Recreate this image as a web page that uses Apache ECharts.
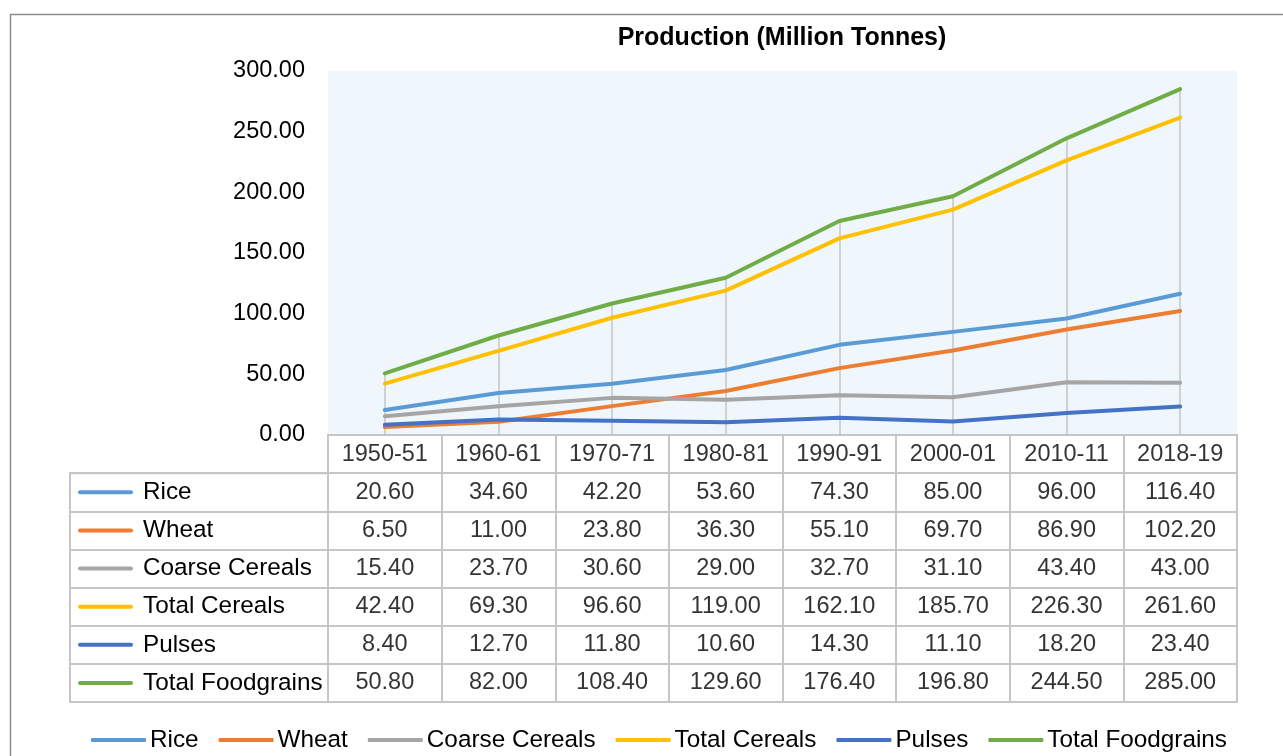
<!DOCTYPE html>
<html>
<head>
<meta charset="utf-8">
<title>Production (Million Tonnes)</title>
<script src="https://cdn.jsdelivr.net/npm/echarts@6/dist/echarts.min.js"></script>
<style>
  html, body { margin: 0; padding: 0; background: #ffffff; }
  #chart { width: 1283px; height: 756px; }
</style>
</head>
<body>
<div id="chart"></div>
<script>
// Foodgrain production by crop, million tonnes
const years = ['1950-51', '1960-61', '1970-71', '1980-81', '1990-91', '2000-01', '2010-11', '2018-19'];
const rice            = [20.6, 34.6, 42.2, 53.6, 74.3, 85.0, 96.0, 116.4];
const wheat           = [6.5, 11.0, 23.8, 36.3, 55.1, 69.7, 86.9, 102.2];
const coarseCereals   = [15.4, 23.7, 30.6, 29.0, 32.7, 31.1, 43.4, 43.0];
const totalCereals    = [42.4, 69.3, 96.6, 119.0, 162.1, 185.7, 226.3, 261.6];
const pulses          = [8.4, 12.7, 11.8, 10.6, 14.3, 11.1, 18.2, 23.4];
const totalFoodgrains = [50.8, 82.0, 108.4, 129.6, 176.4, 196.8, 244.5, 285.0];

const seriesNames = ['Rice', 'Wheat', 'Coarse Cereals', 'Total Cereals', 'Pulses', 'Total Foodgrains'];
const seriesValues = [rice, wheat, coarseCereals, totalCereals, pulses, totalFoodgrains];
const seriesColors = ['#5B9BD5', '#ED7D31', '#A5A5A5', '#FFC000', '#4472C4', '#70AD47'];

const yMin = 0, yMax = 300, yStep = 50;

const FONT = 'Arial, "Liberation Sans", sans-serif';
const FS = 23.5;      // numbers
const FS_NAME = 24.3; // series names
const TEXT = '#000000';
const CELL_LINE = '#C6C6C6';

// Plot area and data table geometry
const plotLeft = 328, plotWidth = 909, plotTop = 71, plotHeight = 364;
const rowH = 38.15;
const tableTop = plotTop + plotHeight;
const headerColLeft = 70;

// Drop lines: from the axis up to the highest value in each column
const dropLines = years.map((_, i) => {
  const top = Math.max(...seriesValues.map(s => s[i]));
  return [{ coord: [i, 0] }, { coord: [i, top] }];
});

// Table cells: header row (years) + one row per series
const cellData = [];
years.forEach((y, i) => cellData.push([i, 0, y]));
seriesValues.forEach((vals, r) => {
  vals.forEach((v, i) => cellData.push([i, r + 1, v.toFixed(2)]));
});

// Row headers with colour keys
const rowRich = { n: { fontFamily: FONT, fontSize: FS_NAME, color: TEXT, padding: [0, 0, 0, 10], verticalAlign: 'middle' } };
seriesColors.forEach((c, i) => {
  rowRich['k' + i] = { backgroundColor: c, width: 55, height: 4, borderRadius: 2, verticalAlign: 'middle' };
});

const lineSeries = seriesNames.map((name, idx) => ({
  name,
  type: 'line',
  xAxisIndex: 0,
  yAxisIndex: 0,
  data: seriesValues[idx],
  symbol: 'none',
  color: seriesColors[idx],
  lineStyle: { width: 4, color: seriesColors[idx], cap: 'round', join: 'round' },
  z: 3,
  markLine: idx === 0 ? {
    silent: true,
    symbol: ['none', 'none'],
    label: { show: false },
    lineStyle: { color: '#C4C4C4', width: 1.5, type: 'solid' },
    emphasis: { disabled: true },
    data: dropLines,
    z: 1
  } : undefined
}));

const option = {
  animation: false,
  backgroundColor: '#ffffff',
  textStyle: { fontFamily: FONT },
  title: {
    text: 'Production (Million Tonnes)',
    left: 777,
    top: 21,
    textAlign: 'center',
    textStyle: { fontFamily: FONT, fontSize: 25, fontWeight: 'bold', color: TEXT }
  },
  legend: {
    data: seriesNames,
    left: 86,
    top: 723,
    itemWidth: 55,
    itemHeight: 4,
    itemGap: 20,
    icon: 'roundRect',
    textStyle: { fontFamily: FONT, fontSize: FS_NAME, color: TEXT, padding: [0, 0, 0, -1] },
    selectedMode: false
  },
  grid: [
    { // plot area
      left: plotLeft, top: plotTop, width: plotWidth, height: plotHeight,
      show: true, backgroundColor: '#EFF7FC', borderWidth: 0, containLabel: false, outerBoundsMode: 'none'
    },
    { // table: year header + value cells
      left: plotLeft, top: tableTop, width: plotWidth, height: rowH * 7,
      show: true, backgroundColor: 'transparent', borderColor: CELL_LINE, borderWidth: 2, containLabel: false, outerBoundsMode: 'none'
    },
    { // table: row headers
      left: headerColLeft, top: tableTop + rowH, width: plotLeft - headerColLeft, height: rowH * 6,
      show: true, backgroundColor: 'transparent', borderColor: CELL_LINE, borderWidth: 2, containLabel: false, outerBoundsMode: 'none'
    }
  ],
  xAxis: [
    {
      gridIndex: 0, type: 'category', data: years, boundaryGap: true,
      axisLine: { show: false }, axisTick: { show: false }, axisLabel: { show: false }, splitLine: { show: false }
    },
    {
      gridIndex: 1, type: 'category', data: years, boundaryGap: true,
      axisLine: { show: false }, axisTick: { show: false }, axisLabel: { show: false },
      splitLine: { show: true, interval: 0, lineStyle: { color: CELL_LINE, width: 2 } }
    },
    {
      gridIndex: 2, type: 'value', min: 0, max: 1, show: false
    }
  ],
  yAxis: [
    {
      gridIndex: 0, type: 'value', min: yMin, max: yMax, interval: yStep,
      axisLine: { show: false }, axisTick: { show: false }, splitLine: { show: false },
      axisLabel: { formatter: v => v.toFixed(2), fontFamily: FONT, fontSize: FS, color: TEXT, margin: 23, lineHeight: 26, padding: [4, 0, 0, 0] }
    },
    {
      gridIndex: 1, type: 'category', inverse: true, data: ['header'].concat(seriesNames),
      axisLine: { show: false }, axisTick: { show: false }, axisLabel: { show: false },
      splitLine: { show: true, interval: 0, lineStyle: { color: CELL_LINE, width: 2 } }
    },
    {
      gridIndex: 2, type: 'category', inverse: true, data: seriesNames,
      axisLine: { show: false }, axisTick: { show: false },
      splitLine: { show: true, interval: 0, lineStyle: { color: CELL_LINE, width: 2 } },
      axisLabel: {
        inside: true, margin: 8, interval: 0,
        formatter: (v, i) => '{k' + i + '|}{n|' + v + '}',
        rich: rowRich
      }
    }
  ],
  series: lineSeries.concat([
    {
      name: 'cells',
      type: 'scatter',
      xAxisIndex: 1,
      yAxisIndex: 1,
      data: cellData,
      symbolSize: 1,
      itemStyle: { color: 'rgba(0,0,0,0)' },
      silent: true,
      label: {
        show: true, position: 'inside',
        formatter: p => p.value[2],
        fontFamily: FONT, fontSize: FS, color: TEXT
      },
      emphasis: { disabled: true }
    }
  ]),
  graphic: [
    {
      type: 'rect',
      shape: { x: 10.5, y: 14.5, width: 1400, height: 900 },
      style: { fill: 'none', stroke: '#8C8C8C', lineWidth: 1.5 },
      silent: true,
      z: 100
    }
  ]
};

const chart = echarts.init(document.getElementById('chart'), null, { renderer: 'canvas' });
chart.setOption(option);
</script>
</body>
</html>
